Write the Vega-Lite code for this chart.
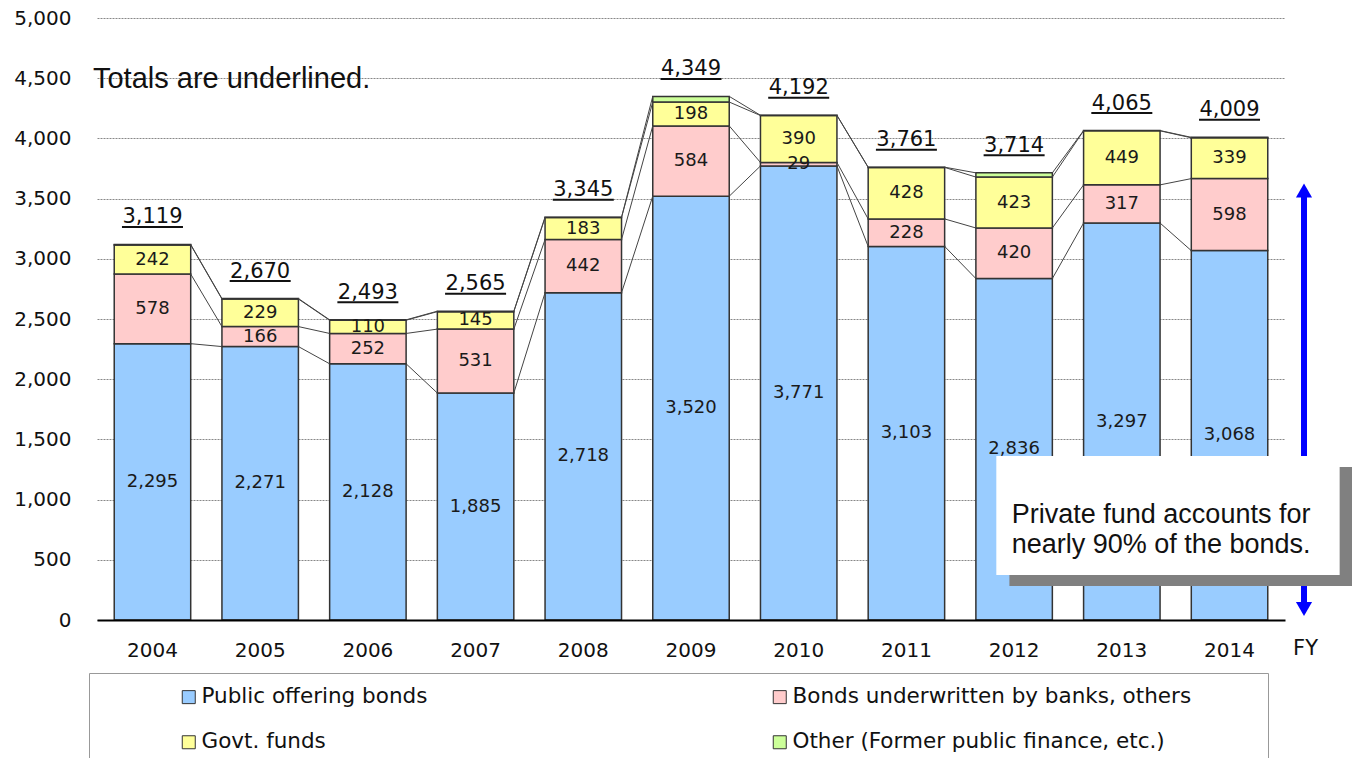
{
  "$schema": "https://vega.github.io/schema/vega-lite/v6.json",
  "width": 1188,
  "height": 602,
  "autosize": {"type": "none"},
  "padding": {"left": 97, "top": 18, "right": 67, "bottom": 138},
  "background": "white",
  "config": {"view": {"stroke": null}, "font": "DejaVu Sans"},
  "layer": [
    {
      "data": {
        "values": [
          {"year": "2004", "cat": "Public offering bonds", "order": 1, "value": 2295},
          {"year": "2004", "cat": "Bonds underwritten by banks, others", "order": 2, "value": 578},
          {"year": "2004", "cat": "Govt. funds", "order": 3, "value": 242},
          {"year": "2004", "cat": "Other (Former public finance, etc.)", "order": 4, "value": 4},
          {"year": "2005", "cat": "Public offering bonds", "order": 1, "value": 2271},
          {"year": "2005", "cat": "Bonds underwritten by banks, others", "order": 2, "value": 166},
          {"year": "2005", "cat": "Govt. funds", "order": 3, "value": 229},
          {"year": "2005", "cat": "Other (Former public finance, etc.)", "order": 4, "value": 4},
          {"year": "2006", "cat": "Public offering bonds", "order": 1, "value": 2128},
          {"year": "2006", "cat": "Bonds underwritten by banks, others", "order": 2, "value": 252},
          {"year": "2006", "cat": "Govt. funds", "order": 3, "value": 110},
          {"year": "2006", "cat": "Other (Former public finance, etc.)", "order": 4, "value": 3},
          {"year": "2007", "cat": "Public offering bonds", "order": 1, "value": 1885},
          {"year": "2007", "cat": "Bonds underwritten by banks, others", "order": 2, "value": 531},
          {"year": "2007", "cat": "Govt. funds", "order": 3, "value": 145},
          {"year": "2007", "cat": "Other (Former public finance, etc.)", "order": 4, "value": 4},
          {"year": "2008", "cat": "Public offering bonds", "order": 1, "value": 2718},
          {"year": "2008", "cat": "Bonds underwritten by banks, others", "order": 2, "value": 442},
          {"year": "2008", "cat": "Govt. funds", "order": 3, "value": 183},
          {"year": "2008", "cat": "Other (Former public finance, etc.)", "order": 4, "value": 2},
          {"year": "2009", "cat": "Public offering bonds", "order": 1, "value": 3520},
          {"year": "2009", "cat": "Bonds underwritten by banks, others", "order": 2, "value": 584},
          {"year": "2009", "cat": "Govt. funds", "order": 3, "value": 198},
          {"year": "2009", "cat": "Other (Former public finance, etc.)", "order": 4, "value": 47},
          {"year": "2010", "cat": "Public offering bonds", "order": 1, "value": 3771},
          {"year": "2010", "cat": "Bonds underwritten by banks, others", "order": 2, "value": 29},
          {"year": "2010", "cat": "Govt. funds", "order": 3, "value": 390},
          {"year": "2010", "cat": "Other (Former public finance, etc.)", "order": 4, "value": 2},
          {"year": "2011", "cat": "Public offering bonds", "order": 1, "value": 3103},
          {"year": "2011", "cat": "Bonds underwritten by banks, others", "order": 2, "value": 228},
          {"year": "2011", "cat": "Govt. funds", "order": 3, "value": 428},
          {"year": "2011", "cat": "Other (Former public finance, etc.)", "order": 4, "value": 2},
          {"year": "2012", "cat": "Public offering bonds", "order": 1, "value": 2836},
          {"year": "2012", "cat": "Bonds underwritten by banks, others", "order": 2, "value": 420},
          {"year": "2012", "cat": "Govt. funds", "order": 3, "value": 423},
          {"year": "2012", "cat": "Other (Former public finance, etc.)", "order": 4, "value": 35},
          {"year": "2013", "cat": "Public offering bonds", "order": 1, "value": 3297},
          {"year": "2013", "cat": "Bonds underwritten by banks, others", "order": 2, "value": 317},
          {"year": "2013", "cat": "Govt. funds", "order": 3, "value": 449},
          {"year": "2013", "cat": "Other (Former public finance, etc.)", "order": 4, "value": 2},
          {"year": "2014", "cat": "Public offering bonds", "order": 1, "value": 3068},
          {"year": "2014", "cat": "Bonds underwritten by banks, others", "order": 2, "value": 598},
          {"year": "2014", "cat": "Govt. funds", "order": 3, "value": 339},
          {"year": "2014", "cat": "Other (Former public finance, etc.)", "order": 4, "value": 4}
        ]
      },
      "transform": [
        {"stack": "value", "groupby": ["year"], "sort": [{"field": "order"}], "as": ["y0", "y1"]}
      ],
      "layer": [
        {
          "mark": {"type": "bar", "stroke": "#333333", "strokeWidth": 1.5},
          "encoding": {
            "x": {
              "field": "year", "type": "nominal",
              "scale": {"paddingInner": 0.29, "paddingOuter": 0.16},
              "axis": {
                "title": "FY", "titleX": 1208, "titleY": 28, "titleBaseline": "middle", "titleAlign": "center",
                "titleFontSize": 21, "titleFontWeight": "normal", "titleFont": "DejaVu Sans", "titleColor": "#111111",
                "labelAngle": 0, "labelFontSize": 20, "labelFont": "DejaVu Sans", "labelColor": "#111111",
                "labelPadding": 20, "ticks": false, "domainColor": "#000000", "domainWidth": 2, "grid": false, "zindex": 1
              }
            },
            "y": {
              "field": "y0", "type": "quantitative",
              "scale": {"domain": [0, 5000], "nice": false},
              "axis": {
                "title": null, "values": [0, 500, 1000, 1500, 2000, 2500, 3000, 3500, 4000, 4500, 5000],
                "format": ",.0f", "labelFontSize": 20, "labelFont": "DejaVu Sans", "labelColor": "#111111",
                "labelPadding": 26, "ticks": false, "domain": false, "grid": true,
                "gridColor": "#888888", "gridDash": [2, 1], "gridWidth": 1
              }
            },
            "y2": {"field": "y1"},
            "color": {
              "field": "cat", "type": "nominal",
              "scale": {
                "domain": ["Public offering bonds", "Bonds underwritten by banks, others", "Govt. funds", "Other (Former public finance, etc.)"],
                "range": ["#99CCFF", "#FFCCCC", "#FFFF99", "#CCFF99"]
              },
              "legend": {
                "title": null, "orient": "none", "legendX": -8, "legendY": 655, "columns": 2, "direction": "horizontal",
                "symbolType": "square", "symbolSize": 169, "symbolStrokeColor": "#333333", "symbolStrokeWidth": 1,
                "labelFont": "DejaVu Sans", "labelFontSize": 21.5, "labelColor": "#111111", "labelLimit": 1000,
                "padding": 13, "rowPadding": 22.5, "columnPadding": 202, "symbolOffset": 76, "labelOffset": 2,
                "strokeColor": "#999999", "fillColor": "white",
                "labelExpr": "datum.label + '\u2800\u2800\u2800\u2800'"
              }
            }
          }
        },
        {
          "transform": [
            {"window": [{"op": "lead", "field": "y1", "as": "ny1"}, {"op": "lead", "field": "year", "as": "nyear"}], "groupby": ["cat"], "sort": [{"field": "year"}]},
            {"filter": "datum.nyear != null"}
          ],
          "mark": {"type": "rule", "color": "#444444", "strokeWidth": 1},
          "encoding": {
            "x": {"field": "year", "type": "nominal", "bandPosition": 1},
            "x2": {"field": "nyear", "bandPosition": 0},
            "y": {"field": "y1", "type": "quantitative"},
            "y2": {"field": "ny1"}
          }
        },
        {
          "transform": [
            {"filter": "datum.order < 4"},
            {"calculate": "(datum.y0 + datum.y1) / 2", "as": "mid"}
          ],
          "mark": {"type": "text", "fontSize": 18, "font": "DejaVu Sans", "color": "#1a1a1a", "baseline": "middle"},
          "encoding": {
            "x": {"field": "year", "type": "nominal"},
            "y": {"field": "mid", "type": "quantitative"},
            "text": {"field": "value", "type": "quantitative", "format": ",.0f"}
          }
        },
        {
          "transform": [{"aggregate": [{"op": "sum", "field": "value", "as": "total"}], "groupby": ["year"]}],
          "layer": [
            {
              "mark": {"type": "text", "fontSize": 21, "font": "DejaVu Sans", "baseline": "alphabetic", "dy": -21, "color": "#111111"},
              "encoding": {
                "x": {"field": "year", "type": "nominal"},
                "y": {"field": "total", "type": "quantitative"},
                "text": {"field": "total", "type": "quantitative", "format": ",.0f"}
              }
            },
            {
              "mark": {"type": "tick", "size": 61, "thickness": 2, "yOffset": -17.5, "color": "#111111", "opacity": 1},
              "encoding": {
                "x": {"field": "year", "type": "nominal"},
                "y": {"field": "total", "type": "quantitative"}
              }
            }
          ]
        }
      ]
    },
    {
      "data": {"values": [{}]},
      "layer": [
        {
          "mark": {"type": "rule", "color": "#0000FF", "strokeWidth": 6},
          "encoding": {
            "x": {"datum": 1.016, "type": "quantitative", "scale": {"domain": [0, 1]}, "axis": null},
            "y": {"datum": 130, "type": "quantitative", "scale": {"domain": [0, 5000], "nice": false}, "axis": null},
            "y2": {"datum": 3530}
          }
        },
        {
          "mark": {"type": "point", "shape": "triangle-up", "size": 260, "filled": true, "color": "#0000FF", "opacity": 1},
          "encoding": {
            "x": {"datum": 1.016, "type": "quantitative"},
            "y": {"datum": 3567, "type": "quantitative"}
          }
        },
        {
          "mark": {"type": "point", "shape": "triangle-down", "size": 260, "filled": true, "color": "#0000FF", "opacity": 1},
          "encoding": {
            "x": {"datum": 1.016, "type": "quantitative"},
            "y": {"datum": 91, "type": "quantitative"}
          }
        },
        {
          "mark": {"type": "rect", "color": "#808080"},
          "encoding": {
            "x": {"datum": 0.768, "type": "quantitative"},
            "x2": {"datum": 1.06},
            "y": {"datum": 282, "type": "quantitative"},
            "y2": {"datum": 1271}
          }
        },
        {
          "mark": {"type": "rect", "color": "white"},
          "encoding": {
            "x": {"datum": 0.757, "type": "quantitative"},
            "x2": {"datum": 1.046},
            "y": {"datum": 374, "type": "quantitative"},
            "y2": {"datum": 1362}
          }
        },
        {
          "mark": {"type": "text", "align": "left", "baseline": "middle", "font": "Liberation Sans", "fontSize": 27, "lineHeight": 30, "color": "#111111", "text": ["Private fund accounts for", "nearly 90% of the bonds."]},
          "encoding": {
            "x": {"datum": 0.77, "type": "quantitative"},
            "y": {"datum": 876, "type": "quantitative"}
          }
        },
        {
          "mark": {"type": "text", "align": "left", "baseline": "middle", "font": "Liberation Sans", "fontSize": 29, "color": "#111111", "text": "Totals are underlined."},
          "encoding": {
            "x": {"datum": -0.0034, "type": "quantitative"},
            "y": {"datum": 4490, "type": "quantitative"}
          }
        }
      ]
    }
  ],
  "resolve": {"scale": {"x": "independent", "y": "independent"}}
}
